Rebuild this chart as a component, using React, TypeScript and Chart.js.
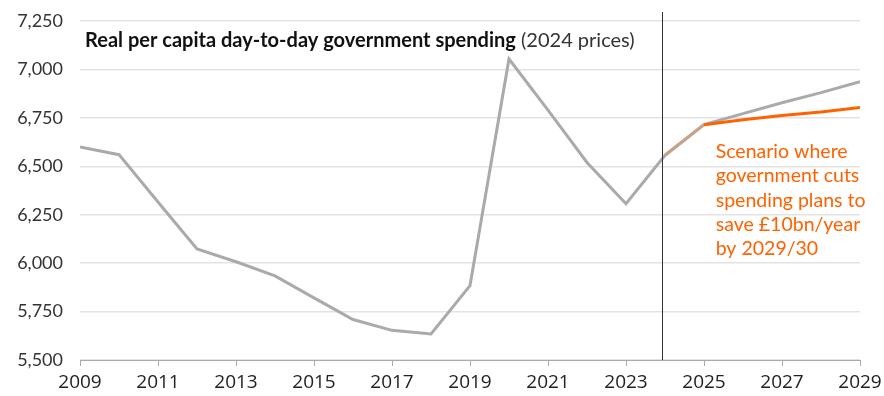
import React, { useEffect, useRef } from "react";
import { Chart, registerables } from "chart.js";
Chart.register(...registerables);

const years = [2009, 2010, 2011, 2012, 2013, 2014, 2015, 2016, 2017, 2018, 2019, 2020, 2021, 2022, 2023, 2024, 2025, 2026, 2027, 2028, 2029];
const spending = [6600, 6560, 6316, 6073, 6007, 5934, 5821, 5709, 5653, 5634, 5884, 7054, 6790, 6520, 6307, 6557, 6715, 6772, 6828, 6880, 6937];
const scenarioYears = [2024, 2025, 2026, 2027, 2028, 2029];
const scenario = [6557, 6715, 6740, 6762, 6780, 6803];
const yTicks = [5500, 5750, 6000, 6250, 6500, 6750, 7000, 7250];
const xTicks = [2009, 2011, 2013, 2015, 2017, 2019, 2021, 2023, 2025, 2027, 2029];
const forecastStart = 2023.92;
const titleBold = "Real per capita day-to-day government spending";
const titleNormal = " (2024 prices)";
const noteLines = ["Scenario where", "government cuts", "spending plans to", "save £10bn/year", "by 2029/30"];

const ORANGE = "#FF6200";
const GREY = "#AAAAAA";

function fitSize(ctx: CanvasRenderingContext2D, text: string, weight: string, family: string, target: number) {
  ctx.font = `${weight} 20px ${family}`;
  const w = ctx.measureText(text).width;
  return (20 * target) / w;
}

export default function App() {
  const ref = useRef<HTMLCanvasElement>(null);
  useEffect(() => {
    document.body.style.margin = "0";
    const overlay = {
      id: "overlay",
      afterDatasetsDraw(chart: any) {
        const { ctx, scales, chartArea } = chart;
        const x = scales.x.getPixelForValue(forecastStart);
        ctx.save();
        ctx.strokeStyle = "#333333";
        ctx.lineWidth = 1;
        ctx.beginPath();
        ctx.moveTo(Math.round(x) + 0.5, chartArea.top - 9);
        ctx.lineTo(Math.round(x) + 0.5, chartArea.bottom);
        ctx.stroke();
        // title
        const tx = scales.x.getPixelForValue(2009) + 5;
        const ty = scales.y.getPixelForValue(7150);
        ctx.textBaseline = "middle";
        ctx.textAlign = "left";
        const ts = Math.min(20.5, fitSize(ctx, titleBold, "bold", "Lato", 431));
        ctx.fillStyle = "#111111";
        ctx.font = `bold ${ts}px Lato`;
        ctx.fillText(titleBold, tx, ty);
        const w = ctx.measureText(titleBold).width;
        ctx.font = `${ts}px Lato`;
        ctx.fillStyle = "#333333";
        ctx.fillText(titleNormal, tx + w, ty);
        // note
        ctx.fillStyle = ORANGE;
        const ns = Math.min(21, fitSize(ctx, noteLines[2], "normal", "Lato", 150));
        ctx.font = `${ns}px Lato`;
        const nx = scales.x.getPixelForValue(2025.3);
        const ny = scales.y.getPixelForValue(6575);
        noteLines.forEach((l, i) => ctx.fillText(l, nx, ny + i * 24.3));
        ctx.restore();
      },
    };
    const chart = new Chart(ref.current!, {
      type: "line",
      data: {
        datasets: [
          {
            data: years.map((y, i) => ({ x: y, y: spending[i] })),
            borderColor: GREY,
            borderWidth: 3,
            pointRadius: 0,
            tension: 0,
            order: 2,
          },
          {
            data: scenarioYears.map((y, i) => ({ x: y, y: scenario[i] })),
            borderColor: ORANGE,
            borderWidth: 3,
            pointRadius: 0,
            tension: 0,
            order: 1,
            segment: {
              borderColor: (c: any) => (c.p0DataIndex === 0 ? "#C9A286" : ORANGE),
            },
          },
        ],
      },
      options: {
        animation: false,
        responsive: false,
        plugins: { legend: { display: false }, tooltip: { enabled: false } },
        layout: { padding: { top: 21, right: 24, left: 0, bottom: 0 } },
        scales: {
          x: {
            type: "linear",
            min: 2009,
            max: 2029,
            afterBuildTicks: (s: any) => {
              s.ticks = xTicks.map((v) => ({ value: v }));
            },
            afterFit: (s: any) => {
              s.height = 36;
              s.paddingLeft = 0;
              s.paddingRight = 0;
            },
            ticks: {
              callback: (v: any) => String(v),
              color: "#222222",
              font: { family: "Open Sans", size: 19 },
              padding: 5,
              maxRotation: 0,
            },
            grid: { drawOnChartArea: false, drawTicks: true, tickLength: 6, color: GREY },
            border: { display: true, color: GREY, width: 1 },
          },
          y: {
            min: 5500,
            max: 7250,
            afterBuildTicks: (s: any) => {
              s.ticks = yTicks.map((v) => ({ value: v }));
            },
            afterFit: (s: any) => {
              s.width = 80;
              s.paddingTop = 0;
              s.paddingBottom = 0;
            },
            ticks: {
              callback: (v: any) => Number(v).toLocaleString("en-US"),
              color: "#333333",
              font: { family: "Lato", size: 18 },
              padding: 17,
            },
            grid: { color: "#E3E3E3", drawTicks: false, lineWidth: 1.5 },
            border: { display: false },
          },
        },
      },
      plugins: [overlay],
    });
    return () => chart.destroy();
  }, []);
  return (
    <div style={{ width: 884, height: 396 }}>
      <canvas ref={ref} width={884} height={396} />
    </div>
  );
}
